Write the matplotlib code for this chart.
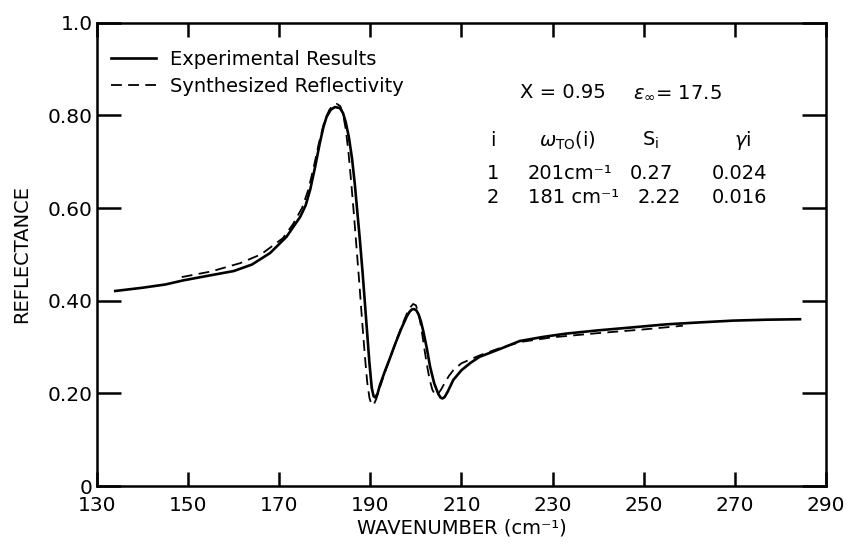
import numpy as np
from matplotlib import pyplot as plt

# values (wavenumber in cm-1, reflectance)
exp_wn = [134, 140, 145, 149, 155, 160, 164, 168, 171.6, 174.6, 175.8, 176.8, 177.9, 178.9,
          179.7, 180.4, 181.3, 182.2, 183.3, 184.0, 184.6, 185.3, 186.0, 186.6, 187.2, 187.7,
          188.3, 188.8, 189.3, 189.8, 190.3, 190.7, 191.1, 191.6, 192.1, 193.2, 194.3, 195.5,
          196.8, 198.0, 198.6, 199.1, 199.6, 200.1, 200.6, 201.1, 201.6, 202.4, 203.1, 204.0,
          204.9, 205.4, 205.8, 206.3, 207.0, 208.2, 210.0, 212.0, 214.0, 218.5, 222.8, 228,
          233, 240, 247, 255, 262, 269.6, 277, 284.3]
exp_refl = [0.421, 0.428, 0.435, 0.444, 0.455, 0.464, 0.478, 0.503, 0.538, 0.581, 0.606, 0.640,
            0.690, 0.740, 0.775, 0.797, 0.812, 0.818, 0.816, 0.805, 0.785, 0.752, 0.705, 0.650,
            0.585, 0.531, 0.460, 0.395, 0.330, 0.265, 0.212, 0.194, 0.191, 0.200, 0.218, 0.248,
            0.276, 0.308, 0.340, 0.366, 0.376, 0.381, 0.382, 0.379, 0.370, 0.355, 0.335, 0.297,
            0.258, 0.222, 0.199, 0.191, 0.189, 0.192, 0.204, 0.229, 0.250, 0.266, 0.279, 0.296,
            0.313, 0.322, 0.329, 0.336, 0.342, 0.349, 0.353, 0.357, 0.359, 0.360]

syn_wn = [148.6, 155, 161.4, 166, 170.8, 173, 175, 176.4, 177.6, 178.7, 180, 181, 181.8, 182.6,
          183.4, 184.0, 184.6, 185.2, 185.8, 186.4, 187.0, 187.6, 188.2, 188.8, 189.3, 189.8,
          190.3, 190.8, 191.3, 192, 193, 194, 195, 196, 197, 198, 198.8, 199.4, 200.0, 200.6,
          201.2, 201.8, 202.4, 203.0, 203.6, 204.2, 204.8, 205.5, 206.3, 207.2, 208.2, 210,
          214, 218.5, 223, 230, 240, 250, 258.6]
syn_refl = [0.451, 0.463, 0.481, 0.500, 0.535, 0.565, 0.600, 0.640, 0.690, 0.740, 0.790, 0.812,
            0.822, 0.825, 0.820, 0.803, 0.770, 0.720, 0.655, 0.585, 0.510, 0.435, 0.355, 0.280,
            0.225, 0.190, 0.175, 0.177, 0.188, 0.210, 0.240, 0.268, 0.295, 0.322, 0.348, 0.372,
            0.386, 0.393, 0.390, 0.372, 0.340, 0.300, 0.262, 0.230, 0.208, 0.197, 0.198, 0.208,
            0.222, 0.237, 0.250, 0.265, 0.282, 0.298, 0.311, 0.321, 0.330, 0.338, 0.346]

xticks = [130, 150, 170, 190, 210, 230, 250, 270, 290]
yticks = [0, 0.2, 0.4, 0.6, 0.8, 1.0]
ylabels = ['0', '0.20', '0.40', '0.60', '0.80', '1.0']

plt.rcParams['font.family'] = 'DejaVu Sans'

fig = plt.figure(figsize=(8.48, 5.44), dpi=100)
ax = fig.add_axes([0.1144, 0.1066, 0.8596, 0.8516])

ax.plot(exp_wn, exp_refl, color='black', linewidth=1.9, label='Experimental Results')
ax.plot(syn_wn, syn_refl, color='black', linewidth=1.3, dashes=(6, 3.5),
        label='Synthesized Reflectivity')

ax.set_xlim(130, 290)
ax.set_ylim(0, 1.0)
ax.set_xticks(xticks)
ax.set_yticks(yticks)
ax.set_yticklabels(ylabels)
ax.tick_params(axis='x', direction='in', length=10, width=1.8, top=True,
               labelsize=14.5, pad=7)
ax.tick_params(axis='y', direction='in', length=17, width=1.8, right=True,
               labelsize=14.5, pad=3)
for sp in ax.spines.values():
    sp.set_linewidth(1.8)

ax.set_xlabel('WAVENUMBER (cm\u207b\u00b9)', fontsize=14, labelpad=3)
ax.set_ylabel('REFLECTANCE', fontsize=14)
ax.yaxis.set_label_coords(-0.09, 0.5)

leg = ax.legend(loc='upper left', bbox_to_anchor=(-0.005, 0.98), frameon=False,
                fontsize=14, handlelength=2.3, handletextpad=0.75,
                labelspacing=0.45)

# parameter table
fs = 14
ax.text(0.580, 0.850, 'X = 0.95', transform=ax.transAxes, fontsize=fs, va='center', ha='left')
ax.text(0.735, 0.850, r'$\epsilon_{\infty}$= 17.5', transform=ax.transAxes, fontsize=fs,
        va='center', ha='left')

rows = [0.746, 0.675, 0.623]
ax.text(0.543, rows[0], 'i', transform=ax.transAxes, fontsize=fs, va='center', ha='center')
ax.text(0.606, rows[0], r'$\omega_{\mathrm{TO}}$(i)', transform=ax.transAxes,
        fontsize=fs, va='center', ha='left')
ax.text(0.759, rows[0], r'S$_{\mathrm{i}}$', transform=ax.transAxes, fontsize=fs,
        va='center', ha='center')
ax.text(0.886, rows[0], r'$\gamma$i', transform=ax.transAxes, fontsize=fs,
        va='center', ha='center')

table = [('1', '201cm\u207b\u00b9', '0.27', '0.024'),
         ('2', '181 cm\u207b\u00b9', '2.22', '0.016')]
s_x = [0.761, 0.772]
for r, row, sx in zip(rows[1:], table, s_x):
    ax.text(0.543, r, row[0], transform=ax.transAxes, fontsize=fs, va='center', ha='center')
    ax.text(0.591, r, row[1], transform=ax.transAxes, fontsize=fs, va='center', ha='left')
    ax.text(sx, r, row[2], transform=ax.transAxes, fontsize=fs, va='center', ha='center')
    ax.text(0.882, r, row[3], transform=ax.transAxes, fontsize=fs, va='center', ha='center')

plt.savefig('out.png', dpi=100)
